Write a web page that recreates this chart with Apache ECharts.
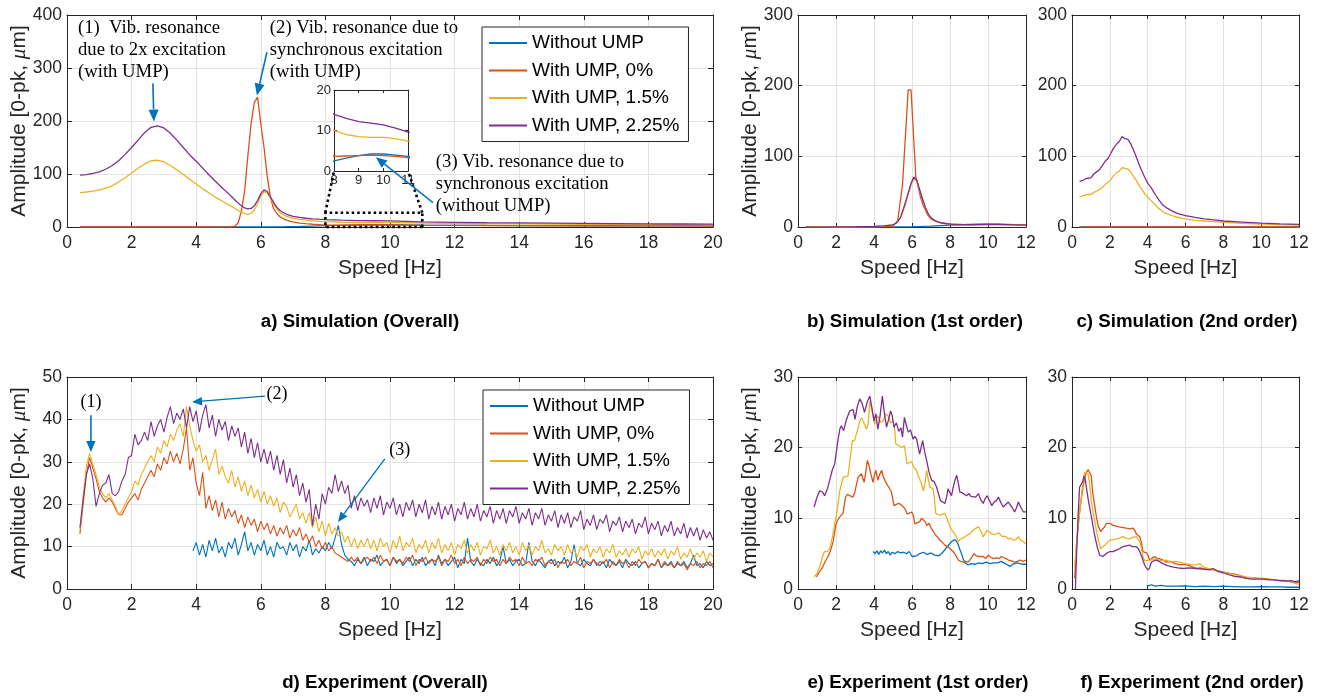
<!DOCTYPE html>
<html><head><meta charset="utf-8">
<script src="https://cdn.jsdelivr.net/npm/echarts@6/dist/echarts.min.js"></script>
<style>html,body{margin:0;padding:0;background:#fff;}#c{width:1322px;height:696px;}</style>
</head><body><div id="c"></div>
<script>
// ---------------- DATA ----------------
const seriesNames = ['Without UMP','With UMP, 0%','With UMP, 1.5%','With UMP, 2.25%'];
const subtitles = ['a) Simulation (Overall)','b) Simulation (1st order)','c) Simulation (2nd order)','d) Experiment (Overall)','e) Experiment (1st order)','f) Experiment (2nd order)'];

// a) Simulation overall
const simA_x = [0.4,0.6,0.8,1.0,1.2,1.4,1.6,1.8,2.0,2.2, 2.4,2.6,2.8,3.0,3.2,3.4,3.6,3.8,4.0,4.2, 4.4,4.6,4.8,5.0,5.1,5.2,5.3,5.4,5.5,5.6, 5.7,5.8,5.9,6.0,6.1,6.2,6.3,6.4,6.5,6.6, 6.7,6.8,6.9,7.0,7.2,7.4,7.6,7.8,8.0,8.5, 9.0,9.5,10.0,10.5,11.0,12,13,14,15,16, 17,18,19,20];
const simA_blue = [0,0,0,0,0,0,0,0,0,0, 0,0,0,0,0,0,0,0,0,0, 0,0,0,0,0,0,0,0,0,0, 0,0,0,0,0,0,0,0,0.2,0.3, 0.4,0.5,0.6,0.8,1.0,1.3,1.7,2.1,2.5,3.2, 3.8,4.2,4.2,3.9,3.6,3.2,2.9,2.7,2.5,2.4, 2.3,2.2,2.1,2.0];
const simA_orange = [0,0,0,0,0,0,0,0,0,0, 0,0,0,0,0,0,0,0,0,0, 0,0,0.1,0.2,0.5,1.5,8,30,68,135, 195,235,245,195,150,95,55,34,25,19, 15.5,13,11,9.5,7.5,6.2,5.2,4.5,3.6,3.7, 3.8,3.9,3.8,3.6,3.3,3.0,2.8,2.6,2.4,2.3, 2.2,2.1,2.0,1.9];
const simA_yellow = [65,66,67.5,70,73,78,85,93,102,111, 119,125,126,123,116,108,99,90,81,72, 64,56,49,42,39,35,31,28,25.5,24, 26,32,44,58,67,64,54,43,34,27, 23,20,18,16.5,14.5,13,11.8,10.8,10,9.0, 8.5,8.3,8.3,8.0,7.4,6.8,6.3,5.9,5.5,5.2, 4.9,4.6,4.3,4.1];
const simA_purple = [98,99,101,104,109,116,125,137,150,164, 178,188,191,187,177,164,150,136,124,111, 98,86,74,63,57,51,45,40,36,34, 35,40,50,63,70,67,57,46,37,31, 27,24,22,20,18,16.5,15.5,14.7,14,13, 12.2,11.8,11.4,10.6,9.6,8.8,8.2,7.7,7.2,6.8, 6.4,6.0,5.7,5.4];

// b) Simulation 1st order
const simB_blue_x = [0.4,2,4,5,5.5,6,6.5,7,7.5,8,8.5,9,9.5,10,10.5,11,11.5,12];
const simB_blue = [0,0,0,0.1,0.3,0.5,0.8,1.3,2,2.6,3.1,3.6,4.0,4.1,3.9,3.6,3.3,3.0];
const simB_orange_x = [0.4,1,2,3,4,4.5,5.0,5.25,5.5,5.8,5.95,6.1,6.2,6.3,6.45,6.6,6.8,7.0,7.3,7.6,8.0,9.0,10.0,11.0,12.0];
const simB_orange = [0,0,0,0,0.2,0.5,1.5,9,60,194,194,120,72,60,42,30,18,11,7.5,5.5,4,3.5,3.6,3.3,3.0];
const simB_x = [1.6,2,3,4,4.5,5.0,5.2,5.4,5.6,5.8,5.95,6.1,6.25,6.4,6.55,6.7,6.85,7.0,7.2,7.5,8.0,8.5,9.0,9.5,10.0,10.5,11.0,11.5,12.0];
const simB_yellow = [0,0.2,0.5,1,1.5,3,6,13,28,46,60,68,65,52,39,27,18,12.5,8.5,5.8,3.9,3.4,3.1,3.3,3.6,3.5,3.2,2.9,2.5];
const simB_purple = [0,0.2,0.5,1,1.5,3,6,14,30,48,62,71,66,53,40,28,19,13,9,6,4,3.5,3.2,3.5,3.8,3.7,3.4,3.0,2.6];

// c) Simulation 2nd order
const simC_zero_x = [0.4,12];
const simC_blue = [0,0];
const simC_orange = [0,0];
const simC_x = [0.4,0.55,0.7,0.85,1.0,1.15,1.3,1.45,1.6,1.75, 1.9,2.05,2.2,2.35,2.5,2.65,2.8,2.95,3.1,3.25, 3.4,3.55,3.7,3.85,4.0,4.2,4.4,4.6,4.8,5.0, 5.3,5.6,6.0,6.5,7,7.5,8,9,10,11, 12];
const simC_yellow = [42.5,44,45.5,46,46,49,51,53,56,60, 63,67,73,77,79,84,83,82,78,72, 66,59,53,47,42,37,31,26,22,19, 16,13.5,11.5,9.5,8.5,7.5,6.5,5,4,3.3, 2.8];
const simC_purple = [64.5,65.5,68,69,69.5,75,78,81,87,93, 97,104,112,117,121,128,125,124,118,109, 99,88,79,70,62,55,46,38,31,27, 22.5,19,16,13.5,11.5,10,8.5,7,5.5,4.5, 3.8];

// d) Experiment overall (samples every 0.1 Hz)
const expD_start = 0.4, expD_blue_start = 3.9, expD_step = 0.1;
const expD_purple = [14.5,21,27,29.5,26,19.5,22.5,24.5,25,27, 22.5,22,23,25.5,27,31,31.5,36.5,34,35, 37,35,39.5,36,38.5,40,37,40.5,43,39, 41.5,40,42.5,38,43,39.5,42,37,41,43.5, 38,41,36,40,37.5,39.5,35,38.5,36,38, 33.5,37,32,35.5,31,34.5,30,33,29.5,32.5, 28,31.5,27,30.5,25,28.5,24,27,22,25, 20.5,23.5,15,20,16.5,22.5,20,24,22.5,27, 23,25.5,22.5,24.5,19,22,18.5,21.5,19.5,21, 18,21.5,19,22,17.5,20.5,19,21.5,17.5,20, 17,20.5,18.5,21,17,20,18,21,16.5,19.5, 17.5,20.5,16.5,19.5,17.5,20,16,19,17.5,20.5, 16.5,19,17,20,16,18.5,17,19.5,15.5,18.5, 16.5,19,15.5,18.5,17,19.5,15.5,18,16.5,19, 15,18,16.5,19,15,17.5,16,18.5,14.5,17.5, 15.5,18,14.5,17,16,18.5,14,16.5,15,17.5, 14,16.5,15.5,17.5,13.5,16,15,17,13.5,16, 14.5,16.5,13,15.5,14.5,17,13,15.5,14,16, 12.5,15,13.5,16,12.5,14.5,13,15.5,12,14.5, 12.5,14.5,11.5,14,12,13.5,11.5];
const expD_yellow = [14,22,29,32,29.5,27,24,22.5,21.5,22.5, 21,19.5,17.5,18.5,20,21.5,23,25.5,24.5,27, 28.5,30,31.5,30,33.5,32,35,33.5,36.5,35, 37.5,39,36,43,38.5,35,32.5,34,30,31.5, 28,30.5,33,27,29,26.5,25,28,24,26.5, 23,25.5,22,24.5,21.5,23.5,20.5,23,20,22, 19.5,21.5,18,20.5,19.5,17,18.5,20,16.5,18, 15.5,18,14.5,17,13.5,16,12.5,15.5,13,14.5, 12.5,13.5,11,12.5,10,12,9.5,11.5,10,12, 9.5,11.5,9,12,10,11,8.5,11.5,9.5,12.5, 9,11,10,12,8.5,10.5,9.5,11.5,8.5,11, 9.5,12,8.5,10.5,9,11,8,10.5,9.5,11.5, 8.5,10.5,9,11,8,10,9.5,11.5,8.5,10, 8,10.5,9,11,8.5,10,8,11,9,10.5, 8,10,9,11.5,8.5,9.5,8,10.5,9,10, 8,10.5,8.5,9.5,7.5,10,9,10.5,7.5,9.5, 8.5,10,7.5,9.5,8.5,10.5,7.5,9,8,9.5, 7.5,9.5,8.5,10,7,9,8,9.5,7.5,9, 8,9.5,7,9,8,10,7,8.5,7.5,9.5, 7,8.5,7.5,9,6.5,8.5,7.5];
const expD_orange = [13,20,27,31,28.5,26,23,21.5,20.5,21.5, 20.5,19,17.5,17.5,19,20.5,21.5,22.5,21,23.5, 25,26.5,28,26.5,29.5,28,31,29.5,32.5,30, 32,29.5,33,38,28,31,25,22,27.5,19, 22,18.5,21,17,20.5,16.5,19,17,18.5,15.5, 17.5,14.5,17,15,16.5,13.5,16,14,15.5,13, 15,12.5,14.5,13,15,12,14,12.5,14.5,11.5, 13,11,12.5,10,11.5,9.5,11,9,10,8.5, 8,7.5,7,6.5,7.5,6.5,7.5,6,7,7.5, 6.5,7.5,6,8,6.5,7,5.5,7.5,6.5,7, 6,7.5,6.5,8,5.5,7,6.5,7.5,6,7, 6.5,7.5,5.5,7,6.5,8,6,7,5.5,7.5, 6,7,6.5,7.5,5.5,7,6,7.5,6.5,7, 5.5,7,6,7.5,6.5,7,5.5,7.5,6,6.5, 5.5,7,6.5,7.5,5.5,6.5,6,7,5,6.5, 6,7,5.5,6.5,6,7.5,5,6.5,6,7, 5.5,6.5,6,7,5,6.5,5.5,7,6,6.5, 5,6.5,5.5,7,6,6.5,5,6,5.5,7, 5,6.5,5.5,6,5,6.5,5.5,6,4.5,6, 5.5,6.5,5,6,5.5,6.5,5];
const expD_blue = [9,11,8,10.5,7.5,11.5,9,12,8.5,10, 7.5,11,9.5,12,8,10.5,13.5,9,11,8, 10.5,9,11.5,8,10,7.5,11,9.5,10,8, 11,9,10.5,7.5,10,9,11.5,8,9.5,8.5, 10,9,11,9.5,12,15,10.5,8,7,6.5, 5.5,7,6,7.5,5.5,7,6.5,8,5.5,6.5, 7,5.5,7.5,6,7,5.5,6.5,7.5,5.5,7, 6,7.5,5.5,6.5,7,5.5,8,6,7,5.5, 6.5,7.5,5,7,6,12,6.5,5.5,7,6, 5.5,7,6,7.5,5.5,6.5,10,6,7,5.5, 6.5,7,5.5,6,11,6.5,5.5,7,6,5, 6.5,7,5.5,6.5,6,7.5,5,6.5,10.5,6, 5.5,7,6,5.5,7,6,5.5,6.5,5,7, 6,5.5,6.5,5,7,6,5.5,6.5,5,6, 6.5,5,6,5.5,7,5,6,5.5,6.5,5, 6,5.5,6.5,5,6,8,5.5,6,5,6.5, 5.5,6];

// e) Experiment 1st order
const expE_blue_x = [3.95,4.05,4.15,4.25,4.35,4.45,4.55,4.65,4.75,4.85, 4.95,5.1,5.25,5.4,5.55,5.7,5.85,6.0,6.1,6.24, 6.4,6.6,6.8,7.0,7.2,7.4,7.55,7.65,7.8,7.95, 8.08,8.17,8.26,8.4,8.52,8.62,8.7,8.8,8.96,9.1, 9.2,9.35,9.5,9.7,9.9,10.1,10.3,10.5,10.7,10.9, 11.0,11.16,11.3,11.5,11.7,11.85,12.0];
const expE_blue = [5.3,5.0,5.4,4.9,5.4,5.1,5.5,5.0,5.3,4.8, 5.2,5.0,5.3,5.1,5.2,5.0,5.3,4.6,4.5,4.7, 5.0,5.2,4.9,5.1,4.8,4.7,5.0,5.3,5.8,6.3, 6.7,6.9,7.0,6.5,5.6,4.9,4.2,3.7,3.4,3.6, 3.6,3.5,3.7,3.6,3.8,3.6,3.7,3.7,3.9,3.6, 3.8,3.2,3.5,3.7,3.6,3.5,3.5];
const expE_orange_x = [0.97,1.1,1.3,1.45,1.58,1.72,1.85,2.0,2.1,2.2, 2.37,2.5,2.6,2.72,2.9,3.0,3.16,3.34,3.48,3.56, 3.65,3.74,3.83,3.95,4.03,4.1,4.2,4.3,4.4,4.5, 4.66,4.8,4.92,5.05,5.2,5.33,5.48,5.62,5.75,5.85, 5.98,6.06,6.15,6.28,6.4,6.5,6.6,6.7,6.77,6.9, 7.03,7.14,7.25,7.36,7.47,7.6,7.73,7.87,8.0,8.17, 8.3,8.43,8.56,8.7,8.83,8.96,9.1,9.26,9.38,9.5, 9.62,9.75,9.88,10.0,10.14,10.28,10.44,10.6,10.7,10.8, 10.95,11.07,11.2,11.4,11.55,11.7,11.85,12.0];
const expE_orange = [1.7,2.3,3.1,4.0,4.6,5.5,6.7,9.2,9.8,10.2, 10.7,13.0,13.4,13.2,13.0,13.8,15.8,16.3,15.1,16.4, 18.2,17.5,16.3,15.1,16.2,16.8,15.4,16.2,16.8,15.8, 14.9,14.3,13.7,11.8,12.0,12.1,11.8,11.4,10.6,10.8, 10.9,10.5,9.2,9.4,9.5,10.0,10.2,9.5,9.0,9.3, 8.5,8.1,7.6,7.3,6.9,6.6,6.2,6.0,5.7,5.3, 4.8,4.1,3.9,3.8,3.9,3.8,4.3,5.0,4.7,4.6, 4.6,4.6,4.3,4.8,4.5,4.3,4.4,4.3,4.6,4.8, 4.3,4.1,4.0,3.8,3.9,4.1,3.9,4.1];
const expE_yellow_x = [0.85,1.0,1.14,1.28,1.4,1.55,1.67,1.8,1.93,2.05, 2.2,2.37,2.5,2.63,2.75,2.86,2.97,3.07,3.17,3.25, 3.35,3.43,3.52,3.6,3.7,3.78,3.9,4.04,4.12,4.2, 4.35,4.48,4.6,4.74,4.87,5.0,5.08,5.15,5.3,5.45, 5.6,5.67,5.74,5.85,5.98,6.1,6.24,6.32,6.4,6.5, 6.6,6.68,6.77,6.86,6.94,7.03,7.1,7.18,7.25,7.35, 7.47,7.6,7.73,7.87,8.0,8.08,8.17,8.3,8.43,8.52, 8.6,8.75,8.87,8.96,9.05,9.17,9.3,9.4,9.5,9.62, 9.75,9.85,9.93,10.05,10.2,10.33,10.46,10.6,10.7,10.8, 10.95,11.07,11.2,11.33,11.47,11.6,11.72,11.86,12.0];
const expE_yellow = [1.7,2.2,3.1,4.5,5.3,5.3,5.7,7.2,9.2,10.8, 13.9,15.8,15.9,16,18.5,21,21,21,22.8,23.8, 24.2,24,23.2,22.6,23.5,26.6,25.2,23.3,24,24.5, 23.6,23.8,24.8,24.5,23.5,23.8,22.8,20.5,20.3,20, 20.3,19,17.7,17.9,18,17.2,16.8,16.1,15.6,14.9, 13.9,14.8,16.8,15.5,14.4,14.6,14.2,12.8,10.7,10.5, 10.4,10.6,10.7,9.8,8.8,8.4,8.3,7.6,6.7,7.0, 7.1,7.3,7.6,7.4,7.8,8.2,8.5,8.6,8.8,8.2, 7.4,7.8,8.3,8.1,7.8,7.7,7.8,7.9,7.5,7.6, 7.4,7.1,7.2,6.9,7.0,7.4,6.9,6.7,6.4];
const expE_purple_x = [0.85,1.0,1.14,1.3,1.4,1.55,1.67,1.8,1.93,2.1, 2.2,2.28,2.4,2.55,2.72,2.9,3.0,3.12,3.25,3.38, 3.5,3.65,3.78,3.9,4.0,4.1,4.2,4.32,4.44,4.55, 4.66,4.77,4.87,4.96,5.05,5.18,5.3,5.42,5.5,5.6, 5.7,5.8,5.92,6.06,6.15,6.24,6.32,6.4,6.48,6.56, 6.66,6.77,6.9,7.03,7.16,7.3,7.4,7.5,7.62,7.73, 7.82,7.9,8.0,8.08,8.17,8.26,8.35,8.45,8.52,8.65, 8.75,8.87,9.0,9.1,9.2,9.35,9.5,9.62,9.75,9.85, 9.96,10.08,10.2,10.32,10.44,10.55,10.68,10.8,10.95,11.07, 11.2,11.3,11.4,11.5,11.6,11.72,11.86,12.0];
const expE_purple = [11.6,13.0,13.9,13.7,13.2,14.2,15.4,16.8,17.7,21, 22.6,23.1,22.4,24,25.2,25.4,24,25.8,26.9,26.2, 25,26.5,27.3,25.5,23.8,24.8,22.6,24.5,27.3,24.8, 22.9,24,25.2,24.5,22.9,23.5,22.3,22.8,21.5,24.3, 23.2,22.2,22.5,21.2,21.6,21.2,20.2,19.1,20,21, 19.5,18.2,16.5,15.4,15.2,14.4,13.4,12.5,12.3,12.1, 13,14.2,13.6,13.2,14.4,15.4,16.1,14.8,13.7,13.6, 13.4,13.2,13.5,13.1,13.2,13.0,13.5,12.6,12.1,12.8, 13.2,12.5,11.8,12.3,12.5,13,12.2,11.6,12,12.3, 11.8,11.4,10.9,11.5,12.3,11.6,10.9,10.9];

// f) Experiment 2nd order
const expF_blue_x = [3.95,4.2,4.4,4.7,5.0,5.5,6.0,6.5,7.0,7.5, 8.0,8.5,9.0,9.5,10.0,10.5,11.0,11.5,12.0];
const expF_blue = [0.4,0.6,0.4,0.5,0.4,0.4,0.45,0.35,0.4,0.35, 0.4,0.35,0.3,0.3,0.35,0.3,0.3,0.25,0.25];
const expF_orange_x = [0.14,0.25,0.37,0.48,0.58,0.68,0.76,0.85,0.93,1.02, 1.1,1.2,1.29,1.4,1.52,1.62,1.73,1.82,1.9,2.0, 2.17,2.33,2.5,2.7,2.87,3.05,3.22,3.32,3.4,3.5, 3.58,3.67,3.75,3.85,3.93,4.02,4.1,4.25,4.37,4.5, 4.63,4.8,4.99,5.2,5.45,5.7,5.95,6.2,6.4,6.57, 6.8,7.0,7.2,7.45,7.7,8.0,8.33,8.6,8.9,9.2, 9.5,9.8,10.1,10.4,10.7,11.0,11.3,11.6,11.8,12.0];
const expF_orange = [1.5,6.5,10.2,12.5,14.4,15.8,16.5,16.9,16.9,16.0, 13.5,11.8,10.2,8.8,8.1,8.5,8.8,9.3,9.1,9.3, 9.0,8.9,8.8,8.7,8.6,8.5,8.6,8.3,7.8,7.6, 7.4,6.6,5.3,5.2,5.1,4.8,4.1,4.4,4.6,4.3, 4.3,4.1,3.8,3.9,3.6,3.4,3.5,3.3,3.1,2.9, 3.0,2.8,2.9,2.7,2.6,2.4,2.2,2.1,1.9,1.6, 1.6,1.5,1.5,1.4,1.3,1.2,1.2,1.0,1.0,0.9];
const expF_yellow_x = [0.14,0.27,0.4,0.53,0.67,0.76,0.85,0.93,1.02,1.15, 1.29,1.4,1.52,1.62,1.73,1.85,2.0,2.17,2.34,2.5, 2.7,2.87,3.05,3.2,3.4,3.5,3.58,3.67,3.75,3.85, 3.93,4.1,4.3,4.46,4.6,4.8,5.0,5.2,5.45,5.7, 5.95,6.2,6.4,6.57,6.75,6.9,7.1,7.45,7.7,8.0, 8.33,8.6,8.9,9.2,9.5,9.8,10.1,10.4,10.7,11.0, 11.3,11.6,11.8,12.0];
const expF_yellow = [3.1,7.5,10.7,14.0,16.5,16.6,16.3,15.0,12.5,10.2, 8.3,6.8,5.7,5.9,6.2,6.5,6.9,7.0,7.1,7.2, 7.4,7.2,7.1,7.3,7.4,7.0,6.7,5.8,4.6,4.0, 3.8,4.1,4.2,4.3,4.1,4.0,4.1,3.8,3.9,3.8, 3.6,3.5,3.4,3.4,3.6,3.2,3.0,2.7,2.6,2.4, 2.2,2.0,1.9,1.7,1.6,1.5,1.4,1.4,1.3,1.2, 1.1,1.0,0.8,0.7];
const expF_purple_x = [0.18,0.25,0.32,0.4,0.5,0.57,0.63,0.7,0.76,0.85, 0.93,1.05,1.2,1.33,1.46,1.55,1.64,1.8,2.0,2.17, 2.34,2.5,2.7,2.87,3.05,3.2,3.4,3.5,3.58,3.7, 3.84,3.93,4.02,4.1,4.2,4.33,4.46,4.6,4.8,5.05, 5.35,5.6,5.87,6.2,6.57,6.9,7.28,7.45,7.7,8.0, 8.33,8.6,8.9,9.2,9.5,9.8,10.1,10.4,10.7,11.0, 11.3,11.6,11.8,12.0];
const expF_purple = [0,5.5,10.2,14.4,14.4,15.2,16.0,15.5,14.4,12.8, 11.6,9.8,7.6,6.0,4.8,4.6,4.6,5.0,5.3,5.3, 5.5,5.7,6.0,6.1,6.2,6.0,6.0,5.7,5.3,4.5, 3.4,3.0,2.7,3.0,3.8,4.0,4.1,3.9,3.6,3.3, 3.1,3.0,2.9,3.0,2.9,2.8,2.7,2.9,2.5,2.3, 2.0,1.8,1.7,1.5,1.4,1.4,1.4,1.3,1.3,1.2, 1.1,1.2,1.0,1.2];

// ---------------- CHART ----------------
const COLORS = ['#0072BD','#D95319','#EDB120','#7E2F8E'];
const SANS = "'Liberation Sans', Arial, Helvetica, sans-serif";
const SERIF = "'Liberation Serif', 'Times New Roman', serif";
const AX = '#262626', GRIDC = '#e2e2e2';

function pairs(xs, ys){ return xs.map((x,i)=>[x, ys[i]]); }
function sampled(start, step, ys){ return ys.map((y,i)=>[Math.round((start+i*step)*1000)/1000, y]); }

const panels = [
  {grid:{left:67, top:15, width:646, height:212}, x:[0,20,2], y:[0,400,100], yname:true, tick:5, lw:1.3,
   data:[pairs(simA_x,simA_blue),pairs(simA_x,simA_orange),pairs(simA_x,simA_yellow),pairs(simA_x,simA_purple)]},
  {grid:{left:798, top:15, width:228, height:212}, x:[0,12,2], y:[0,300,100], yname:true, tick:4, lw:1.3,
   data:[pairs(simB_blue_x,simB_blue),pairs(simB_orange_x,simB_orange),pairs(simB_x,simB_yellow),pairs(simB_x,simB_purple)]},
  {grid:{left:1072, top:15, width:227, height:212}, x:[0,12,2], y:[0,300,100], yname:false, tick:4, lw:1.3,
   data:[pairs(simC_zero_x,simC_blue),pairs(simC_zero_x,simC_orange),pairs(simC_x,simC_yellow),pairs(simC_x,simC_purple)]},
  {grid:{left:67, top:377, width:646, height:212}, x:[0,20,2], y:[0,50,10], yname:true, tick:5, lw:1.1,
   data:[sampled(expD_blue_start,expD_step,expD_blue),sampled(expD_start,expD_step,expD_orange),sampled(expD_start,expD_step,expD_yellow),sampled(expD_start,expD_step,expD_purple)]},
  {grid:{left:798, top:377, width:228, height:212}, x:[0,12,2], y:[0,30,10], yname:true, tick:4, lw:1.3,
   data:[pairs(expE_blue_x,expE_blue),pairs(expE_orange_x,expE_orange),pairs(expE_yellow_x,expE_yellow),pairs(expE_purple_x,expE_purple)]},
  {grid:{left:1072, top:377, width:227, height:212}, x:[0,12,2], y:[0,30,10], yname:false, tick:4, lw:1.3,
   data:[pairs(expF_blue_x,expF_blue),pairs(expF_orange_x,expF_orange),pairs(expF_yellow_x,expF_yellow),pairs(expF_purple_x,expF_purple)]}
];
// inset of panel a
panels.push({grid:{left:334, top:90, width:74, height:81}, x:[8,11,1], y:[0,20,10], yname:false, tick:3, lw:1.3, inset:true, data:panels[0].data});

const grids=[], xAxes=[], yAxes=[], series=[];
panels.forEach((p,gi)=>{
  const z = p.inset ? 10 : 0;
  const fs = p.inset ? 13 : 17.5;
  grids.push(Object.assign({show:false, containLabel:false, outerBoundsMode:'none'}, p.grid));
  const base = {gridIndex:gi, type:'value', z:z,
    axisLine:{show:true, onZero:false, lineStyle:{color:AX, width:1}},
    axisTick:{show:true, inside:true, length:p.tick, lineStyle:{color:AX, width:1}},
    minorTick:{show:false}};
  xAxes.push(Object.assign({}, base, {position:'bottom', min:p.x[0], max:p.x[1], interval:p.x[2],
    axisLabel:{show:true, color:AX, fontSize:fs, fontFamily:SANS, margin:p.inset?3:7},
    splitLine:{show:!p.inset, lineStyle:{color:GRIDC, width:1}},
    name: p.inset ? '' : 'Speed [Hz]', nameLocation:'middle', nameGap:31, nameMoveOverlap:false,
    nameTextStyle:{fontSize:21, color:AX, fontFamily:SANS}}));
  xAxes.push(Object.assign({}, base, {position:'top', min:p.x[0], max:p.x[1], interval:p.x[2],
    axisLabel:{show:false}, splitLine:{show:false}}));
  yAxes.push(Object.assign({}, base, {position:'left', min:p.y[0], max:p.y[1], interval:p.y[2],
    axisLabel:{show:true, color:AX, fontSize:fs, fontFamily:SANS, margin:p.inset?3:5},
    splitLine:{show:!p.inset, lineStyle:{color:GRIDC, width:1}},
    name: p.yname ? 'Amplitude [0-pk, {i|μ}m]' : '', nameLocation:'middle', nameGap:37, nameMoveOverlap:false,
    nameTextStyle:{fontSize:21, color:AX, fontFamily:SANS, rich:{i:{fontSize:21, fontStyle:'italic', fontFamily:SERIF, color:AX}}}}));
  yAxes.push(Object.assign({}, base, {position:'right', min:p.y[0], max:p.y[1], interval:p.y[2],
    axisLabel:{show:false}, splitLine:{show:false}}));
  p.data.forEach((d,si)=>{
    series.push({name:seriesNames[si], type:'line', xAxisIndex:2*gi, yAxisIndex:2*gi, data:d,
      showSymbol:false, symbol:'none', smooth:false, clip:true, animation:false, silent:true,
      z: p.inset ? 11 : 2, lineStyle:{color:COLORS[si], width:p.lw}, itemStyle:{color:COLORS[si]},
      emphasis:{disabled:true}});
  });
});

function legendAt(left, top){
  return {data:seriesNames, orient:'vertical', left:left, top:top, icon:'rect', itemWidth:38, itemHeight:2,
    itemGap:7.5, padding:[6,9,6,7], backgroundColor:'#fff', borderColor:AX, borderWidth:1, borderRadius:0, z:30,
    selectedMode:false, textStyle:{fontSize:19, lineHeight:20, color:'#000', fontFamily:SANS}};
}

const chart = echarts.init(document.getElementById('c'), null, {renderer:'canvas'});
chart.setOption({
  animation:false, backgroundColor:'#fff', color:COLORS,
  grid:grids, xAxis:xAxes, yAxis:yAxes, series:series,
  legend:[legendAt(482,27), legendAt(483,390)]
});

// ---------------- ANNOTATIONS (data coordinates -> pixels) ----------------
function px(gi, pt){ return chart.convertToPixel({xAxisIndex:2*gi, yAxisIndex:2*gi}, pt); }
const BLUE = '#0072BD';
const gfx = [];
function arrow(p0, p1, w, head){
  const dx=p1[0]-p0[0], dy=p1[1]-p0[1], L=Math.hypot(dx,dy), ux=dx/L, uy=dy/L;
  const bx=p1[0]-ux*head, by=p1[1]-uy*head, hw=head*0.42;
  gfx.push({type:'line', z:50, shape:{x1:p0[0],y1:p0[1],x2:bx,y2:by}, style:{stroke:BLUE, lineWidth:w}});
  gfx.push({type:'polygon', z:50, shape:{points:[[p1[0],p1[1]],[bx-uy*hw,by+ux*hw],[bx+uy*hw,by-ux*hw]]}, style:{fill:BLUE}});
}
function text(p, str, opts){
  gfx.push({type:'text', z:50, x:p[0], y:p[1], style:Object.assign({text:str, fill:'#000', font:'18.7px '+SERIF, lineHeight:21.7}, opts||{})});
}
// inset background (covers main grid lines)
const ib = panels[6].grid;
gfx.push({type:'rect', z:5, shape:{x:ib.left, y:ib.top, width:ib.width, height:ib.height}, style:{fill:'#fff'}});

// panel a texts
const aTexts = [
  {at:[0.34,375], lines:['(1)  Vib. resonance','due to 2x excitation','(with UMP)']},
  {at:[6.28,375], lines:['(2) Vib. resonance due to','synchronous excitation','(with UMP)']},
  {at:[11.42,122], lines:['(3) Vib. resonance due to','synchronous excitation','(without UMP)']}
];
aTexts.forEach(t=>{ const p=px(0,t.at); text([p[0], p[1]-10.85], t.lines.join('\n'), {align:'left', verticalAlign:'top'}); });
arrow(px(0,[2.66,271]), px(0,[2.69,199]), 1.6, 12);
arrow(px(0,[6.19,330]), px(0,[5.88,248]), 1.6, 12);
arrow(px(0,[11.33,46]), px(6,[9.7,3.4]), 1.4, 11);

// dotted zoom box and connectors
const c00=px(0,[8,0]), c01=px(0,[8,27]), c11=px(0,[11,27]), c10=px(0,[11,0]);
const i0=px(6,[8,0]), i1=px(6,[11,0]);
const dotted = {stroke:'#000', lineWidth:2.6, lineDash:[2.5,3], fill:null};
gfx.push({type:'polyline', z:40, shape:{points:[c10,c00,c01,c11,c10]}, style:dotted});
gfx.push({type:'line', z:40, shape:{x1:c01[0],y1:c01[1],x2:i0[0],y2:i0[1]}, style:dotted});
gfx.push({type:'line', z:40, shape:{x1:c11[0],y1:c11[1],x2:i1[0],y2:i1[1]}, style:dotted});

// panel d annotations
[{at:[0.74,44.1], s:'(1)'},{at:[6.5,46], s:'(2)'},{at:[10.3,32.8], s:'(3)'}].forEach(t=>{
  text(px(3,t.at), t.s, {align:'center', verticalAlign:'middle', font:'18px '+SERIF});
});
arrow(px(3,[0.74,41]), px(3,[0.74,32.3]), 1.6, 11);
arrow(px(3,[6.13,45.5]), px(3,[3.87,44.1]), 1.3, 10);
arrow(px(3,[9.84,30.7]), px(3,[8.39,15.8]), 1.3, 10);

// subtitles
const subPos = [[360,322],[915,322],[1187,322],[385,683],[918,683],[1192,683]];
subtitles.forEach((s,i)=>{
  gfx.push({type:'text', z:50, x:subPos[i][0], y:subPos[i][1], style:{text:s, fill:'#000', font:'bold 18.7px '+SANS, align:'center', verticalAlign:'middle'}});
});

chart.setOption({graphic:{elements:gfx}});
</script></body></html>
